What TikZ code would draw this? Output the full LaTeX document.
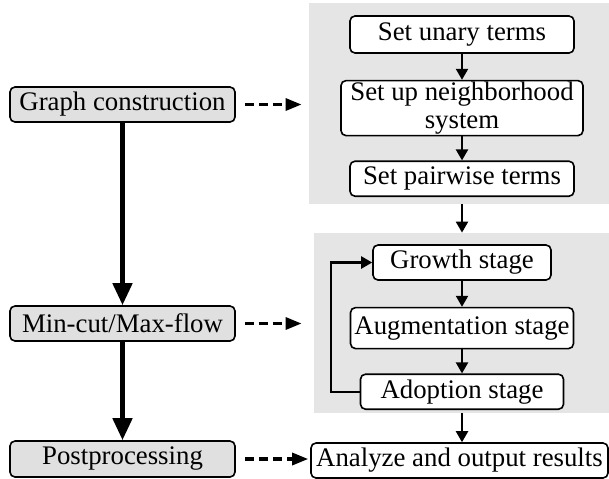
\documentclass[tikz,border=0pt]{standalone}
\usepackage{fontspec}
\setmainfont{Liberation Serif}
\usetikzlibrary{positioning,fit,calc,arrows.meta}
\pgfdeclarelayer{background}
\pgfsetlayers{background,main}

\begin{document}
\begin{tikzpicture}[
  x=0.5pt,y=-0.5pt,
  font=\fontsize{13.4}{14}\selectfont,
  phase/.style={draw=black,fill=black!12,rounded corners=2.5pt,line width=0.8pt,
    minimum width=112.5pt,minimum height=17.5pt,inner sep=0pt},
  stage/.style={draw=black,fill=white,rounded corners=2.5pt,line width=0.8pt,
    minimum height=17.5pt,inner sep=0pt},
  panel/.style={fill=black!10,inner sep=0pt},
  flow/.style={line width=1.1pt,-{Triangle[length=5.5pt,width=6pt]}},
  mainflow/.style={line width=2.3pt,-{Triangle[length=11pt,width=9.5pt]}},
  dashflow/.style={line width=1.6pt,dash pattern=on 4.5pt off 2.5pt,
    -{Triangle[length=8pt,width=6pt]}}
  ]
  \useasboundingbox (0,0) rectangle (609,478);

  \begin{pgfonlayer}{main}
    % left column
    \node (gc) [phase] at (122.5,104.5) {Graph construction};
    \node (mc) [phase] at (122.5,323.5) {Min-cut/Max-flow};
    \node (pp) [phase,minimum height=18pt] at (122.5,459) {Postprocessing};

    % right column
    \node (unary) [stage,minimum width=112pt,minimum height=18.5pt] at (462,34.5) {Set unary terms};
    \node (neigh) [stage,below=13pt of unary,minimum width=121pt,minimum height=27.5pt,
       align=center] {Set up neighborhood\\system};
    \node (pair) [stage,below=12pt of neigh,minimum width=112pt] {Set pairwise terms};

    \node (growth) [stage,minimum width=89pt] at (462,262.5) {Growth stage};
    \node (aug) [stage,below=13pt of growth,minimum width=111.5pt,minimum height=20.5pt]
       {Augmentation stage};
    \node (adopt) [stage,below=12pt of aug,minimum width=101.5pt] {Adoption stage};

    \node (res) [stage,minimum width=148.5pt] at (459.5,460.5) {Analyze and output results};
  \end{pgfonlayer}

  \begin{pgfonlayer}{background}
    \coordinate (p1nw) at (309,3);
    \coordinate (p1se) at (609,204);
    \node (setup) [panel,fit={(p1nw) (p1se)}] {};
    \coordinate (p2nw) at (314,233);
    \coordinate (p2se) at (609,413);
    \node (solve) [panel,fit={(p2nw) (p2se)}] {};
  \end{pgfonlayer}

  \begin{pgfonlayer}{main}
  \path [draw,mainflow] (gc) -- (mc) ;
  \path [draw,mainflow] (mc) -- (pp) ;
  \path [draw,dashflow,shorten <=4.5pt,shorten >=3.5pt] (gc.east) -- (gc.east -| setup.west) ;
  \path [draw,dashflow,shorten <=4.5pt,shorten >=6pt] (mc.east) -- (mc.east -| solve.west) ;
  \path [draw,dashflow,shorten <=4.5pt,shorten >=1pt] (pp.east) -- (pp.east -| res.west) ;
  \path [draw,flow] (unary) -- (neigh) ;
  \path [draw,flow] (neigh) -- (pair) ;
  \path [draw,flow] (setup.south -| pair) -- (solve.north -| pair) ;
  \path [draw,flow] (growth) -- (aug) ;
  \path [draw,flow] (aug) -- (adopt) ;
  \path [draw,flow] (adopt.west) -- ++(-14.5pt,0) |- (growth.west) ;
  \path [draw,flow] (solve.south -| pair) -- (res.north -| pair) ;
  \end{pgfonlayer}
\end{tikzpicture}
\end{document}
